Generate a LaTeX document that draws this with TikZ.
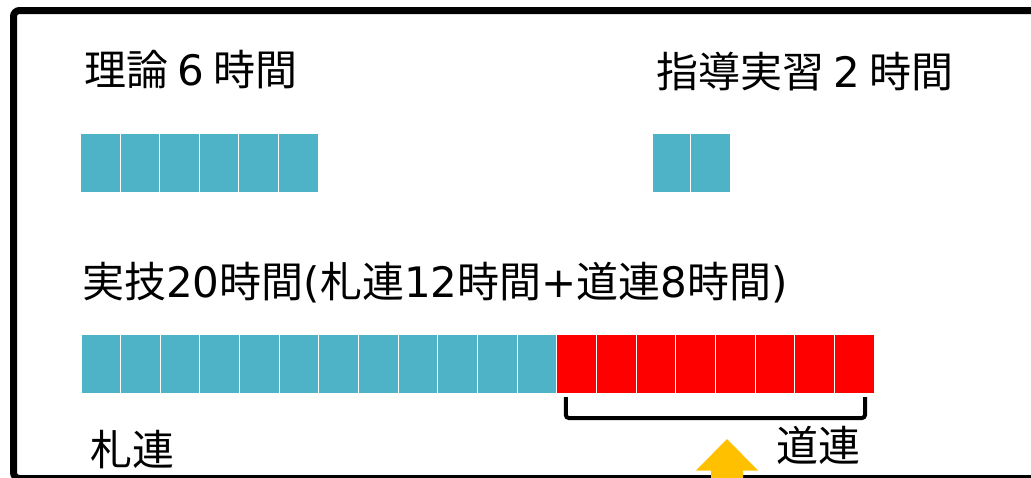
\documentclass[tikz,border=0pt]{standalone}
\usepackage{fontspec}
\setmainfont{Noto Sans CJK JP}
\newfontfamily\latfont{DejaVu Sans}
\newcommand\dgt[1]{{\latfont #1}}
\usetikzlibrary{positioning}
\definecolor{cellblue}{HTML}{4FB3C8}
\definecolor{cellred}{HTML}{FF0000}
\definecolor{arrowgold}{HTML}{FFC000}
\begin{document}
\begin{tikzpicture}[x=1pt,y=-1pt]
    \tikzset{
      cell/.style={draw=white, line width=1pt, fill=cellblue,
                   minimum width=39.65pt, minimum height=59pt,
                   inner sep=0pt, outer sep=0pt},
      redcell/.style={cell, fill=cellred},
      lbl/.style={anchor=west, inner sep=0pt,
                  font=\fontsize{42}{46}\selectfont},
      bracket/.style={draw, line width=4pt, rounded corners=3pt},
    }
    \useasboundingbox (0,0) rectangle (1031,477);
    \begin{scope}
    \clip (0,0) rectangle (1031,477);
    \draw[line width=7pt, rounded corners=6pt] (13.5,10.5) rectangle (1045,478.5);
    \end{scope}

    % top rows
    \foreach \i in {1,...,6}
        \node[cell] (th\i) at ({81+(\i-0.5)*39.5},163) {};
    \foreach \i in {1,2}
        \node[cell] (gd\i) at ({653+(\i-0.5)*38.5},163) {};
    \node[lbl] (theory) at (84,70) {理論 \dgt{6} 時間};
    \node[lbl] (guided) at (656,72) {指導実習 \dgt{2} 時間};

    % practice row
    \foreach \i in {1,...,12}
        \node[cell] (sa\i) at ({81+(\i-0.5)*39.65},363.5) {};
    \foreach \i in {1,...,8}
        \node[redcell] (do\i) at ({81+(\i+11.5)*39.65},363.5) {};
    \node[lbl] (practice) at (82,283) {実技\dgt{20}時間\dgt{(}札連\dgt{12}時間\dgt{+}道連\dgt{8}時間\dgt{)}};

    \draw[bracket] ([xshift=9pt,yshift=-4pt]do1.south west) |- ([yshift=-25pt]do8.south)
        -| ([xshift=-9pt,yshift=-4pt]do8.south east);
    \node[lbl] (sapporo) at (90,450) {札連};
    \node[lbl] (hokkaido) at (776,445) {道連};

    % arrow from below
    \fill[arrowgold] (711,490) -- (711,470.5) -- (696,470.5) -- (727,439)
        -- (758,470.5) -- (743,470.5) -- (743,490) -- cycle;
\end{tikzpicture}
\end{document}
